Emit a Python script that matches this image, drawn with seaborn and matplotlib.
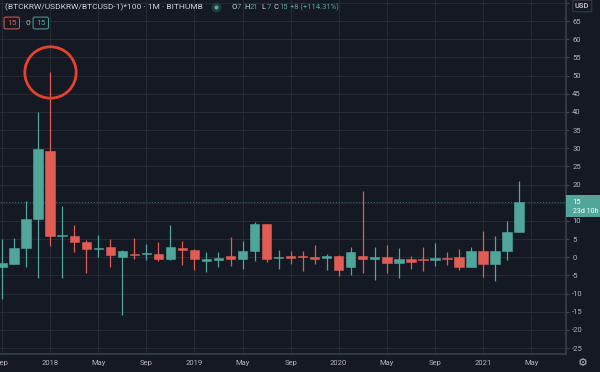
import matplotlib.pyplot as plt
from matplotlib.lines import Line2D
from matplotlib.patches import Rectangle
import numpy as np
import pandas as pd
import seaborn as sns

# Monthly candles, Sep 2017 - Apr 2021
months = pd.date_range('2017-09-01', '2021-04-01', freq='MS')
opens = [-2.8, -1.8, 2.5, 10.5, 29.2, 5.8, 5.8, 4.3, 2.3, 2.7, 0.0, 0.8,
         0.8, 1.0, -0.4, 2.6, 1.9, -1.0, -0.7, 0.2, -0.4, 1.65, 9.1, -0.2,
         0.2, 0.1, 0.0, -0.3, 0.4, -2.8, 0.3, -0.4, 0.0, -1.7, -0.55, -0.7,
         -0.9, -0.2, 0.0, -2.75, 1.65, -2.0, 1.7, 7.0]
highs = [5.0, 5.2, 15.4, 40.0, 51.0, 14.0, 8.8, 4.7, 6.1, 5.0, 1.9, 5.2,
         3.6, 4.1, 8.8, 4.4, 2.2, 1.3, 1.4, 5.5, 4.5, 9.7, 9.1, 1.9,
         1.65, 1.65, 3.4, 1.0, 0.55, 2.75, 18.2, 2.75, 3.4, 2.6, 0.45, 2.7,
         3.8, 1.3, 2.3, 2.9, 7.2, 5.8, 10.0, 21.0]
lows = [-11.6, -2.0, -2.8, -5.7, 3.0, -5.7, 1.3, -4.4, 0.0, -2.7, -16.0, -0.5,
        -0.8, -1.0, -0.8, -2.1, -3.6, -4.0, -2.7, -2.3, -3.3, -1.0, -1.4, -3.3,
        -1.8, -3.9, -1.8, -3.6, -5.1, -4.9, -4.3, -6.2, -4.3, -5.7, -3.3, -3.8,
        -2.3, -2.1, -3.4, -2.8, -5.4, -6.6, -0.7, 7.0]
closes = [-1.7, 2.5, 10.5, 29.8, 5.9, 5.9, 4.3, 2.3, 2.4, 0.6, 1.6, 0.6,
          0.9, -0.5, 2.7, 1.9, -0.5, -0.5, -0.3, -0.5, 1.8, 9.1, -0.4, -0.1,
          -0.2, 0.0, -0.5, 0.4, -3.4, 1.3, -0.5, 0.0, -1.7, -0.55, -1.2, -0.9,
          -0.2, -0.6, -2.7, 1.7, -2.0, 1.7, 7.0, 15.1]
tick_labels = ['Sep', '2018', 'May', 'Sep', '2019', 'May', 'Sep',
               '2020', 'May', 'Sep', '2021', 'May']
y_ticks = list(range(-25, 71, 5))

df = pd.DataFrame({'month': months, 'open': opens, 'high': highs,
                   'low': lows, 'close': closes})
df['x'] = np.arange(len(df))

BG = '#151924'
GRID = '#262a35'
UP = '#50a69b'
DOWN = '#e15c55'
TXT = '#b2b5be'

sns.set_style('dark', rc={'axes.facecolor': BG, 'figure.facecolor': BG,
                          'grid.color': GRID, 'axes.edgecolor': '#454853'})
plt.rcParams['font.family'] = ['Roboto', 'DejaVu Sans']

fig = plt.figure(figsize=(6, 3.72), dpi=100)
ax = fig.add_axes([0, 18 / 372, 566 / 600, 354 / 372])

up = df['close'] >= df['open']
colors = np.where(up, UP, DOWN)

# wicks and bodies
ax.vlines(df['x'], df['low'], df['high'], colors=colors, lw=0.9, zorder=2)
bottoms = np.minimum(df['open'], df['close'])
heights = np.maximum((df['close'] - df['open']).abs(), 0.3)
ax.bar(df['x'], heights, bottom=bottoms, width=0.78, color=colors,
       edgecolor=colors, lw=0.4, zorder=3)

# last price line + label box on the price scale
last = df['close'].iloc[-1]
ax.axhline(last, color=UP, ls=(0, (1, 2)), lw=0.7, alpha=0.6, zorder=1)
ytr = ax.get_yaxis_transform()
ax.add_patch(Rectangle((1.0, last - 4.1), 34 / 566, 6.0, transform=ytr,
                       fc=UP, ec='none', clip_on=False, zorder=5))
ax.text(1.012, last, '15', transform=ytr, ha='left', va='center',
        fontsize=5.5, color='white', clip_on=False, zorder=6)
ax.text(1.012, last - 2.6, '23d 10h', transform=ytr, ha='left', va='center',
        fontsize=5, color='white', clip_on=False, zorder=6)

# highlight circle around the Jan 2018 spike
peak = df['high'].idxmax()
ax.plot(df['x'][peak], df['high'][peak], 'o', ms=37, mfc='none',
        mec='#e5432d', mew=2, zorder=6)

ax.set_xticks(np.arange(0, 4 * len(tick_labels), 4))
ax.set_xticklabels(tick_labels)
ax.set_yticks(y_ticks)
# labels hidden behind the price box / USD badge
ax.set_yticklabels(['' if v in (15, 70) else str(v) for v in y_ticks])
ax.set_xlim(-0.17, 46.9)
ax.set_ylim(-26.65, 70.8)
ax.grid(True, color=GRID, lw=0.8)
ax.yaxis.tick_right()
ax.tick_params(axis='both', labelsize=5.5, labelcolor=TXT, color='#454853',
               length=2.5, pad=2)
for s in ['top', 'left']:
    ax.spines[s].set_visible(False)
for s in ['right', 'bottom']:
    ax.spines[s].set_color('#3a3e49')
    ax.spines[s].set_linewidth(1.2)


# header
def ftext(px, py, s, fs=6, **kw):
    return fig.text(px / 600, 1 - py / 372, s, va='center', fontsize=fs, **kw)


ftext(5, 7, '(BTCKRW/USDKRW/BTCUSD-1)*100 · 1M · BITHUMB', color='#d1d4dc')
fig.add_artist(Line2D([216 / 600], [1 - 7 / 372], marker='o', ms=5, mfc=UP,
                      mec='#1f3d3b', mew=2, transform=fig.transFigure))

renderer = fig.canvas.get_renderer()
parts = [('O', '#d1d4dc', 0.5), ('7', UP, 3), ('H', '#d1d4dc', 0.5), ('21', UP, 3),
         ('L', '#d1d4dc', 0.5), ('7', UP, 3), ('C', '#d1d4dc', 0.5), ('15', UP, 3),
         ('+8 (+114.31%)', UP, 0)]
px = 231
for s, c, gap in parts:
    t = ftext(px, 7, s, fs=5.5, color=c)
    px += t.get_window_extent(renderer).width + gap

ftext(7, 23, '15', color=DOWN,
      bbox=dict(boxstyle='round,pad=0.35,rounding_size=0.2', fc=BG, ec=DOWN, lw=0.7))
ftext(25, 23, '0', color=TXT)
ftext(36, 23, '15', color=UP,
      bbox=dict(boxstyle='round,pad=0.35,rounding_size=0.2', fc=BG, ec=UP, lw=0.7))
ftext(575, 6, 'USD', fs=5.5, color=TXT, fontweight='bold',
      bbox=dict(boxstyle='round,pad=0.3,rounding_size=0.2', fc=BG, ec='#3a3e49', lw=0.7))
fig.text(583 / 600, 1 - 363 / 372, '⚙', ha='center', va='center', fontsize=8,
         color=TXT, family='DejaVu Sans')

fig.savefig('out.png', dpi=100, facecolor=BG)
